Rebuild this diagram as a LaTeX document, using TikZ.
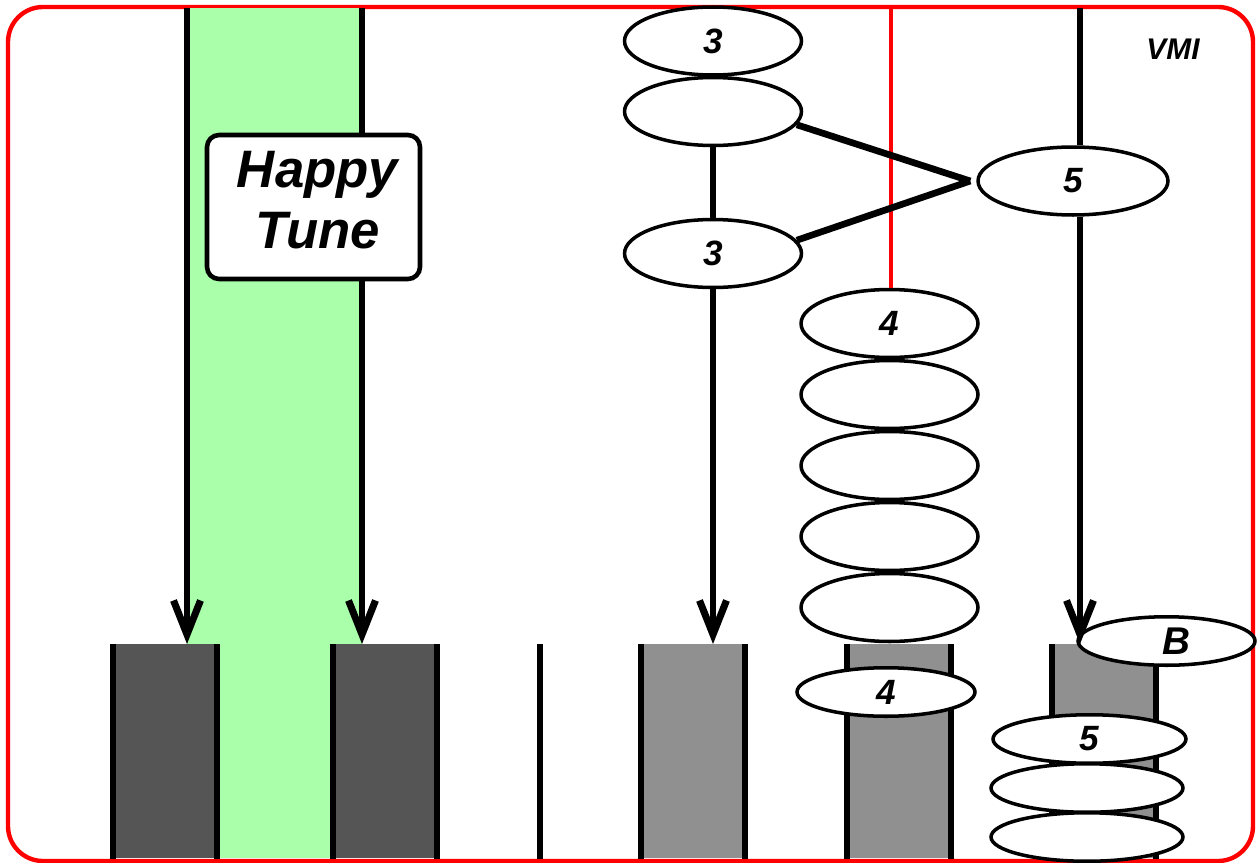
\documentclass[tikz,border=0pt]{standalone}
\usepackage{fontspec}
\setmainfont{Liberation Sans}
\usepackage{xcolor}
\usetikzlibrary{shapes.geometric}
\usetikzlibrary{arrows.meta}
\usetikzlibrary{positioning}

\definecolor{tunegreen}{HTML}{AAFFAA}
\definecolor{bardark}{HTML}{555555}
\definecolor{bargray}{HTML}{909090}

\tikzset{
  blob/.style={ellipse, draw, fill=white, line width=2pt, inner sep=0pt,
    minimum width=3.54cm, minimum height=1.36cm,
    font=\fontsize{20}{21}\selectfont\bfseries\itshape},
  flatblob/.style={blob, minimum width=3.56cm, minimum height=0.97cm},
  bar/.style={rectangle, inner sep=0pt, minimum width=2.07cm, minimum height=4.28cm, anchor=north},
  edge/.style={line width=3.2pt},
  link/.style={line width=2.9pt},
  feed/.style={line width=2.9pt, -{Straight Barb[length=0.68cm, width=0.54cm, line width=4pt]}},
  redline/.style={red, line width=2.5pt},
  tunetext/.style={align=center, font=\fontsize{30}{35}\selectfont\bfseries\itshape},
}

\begin{document}
\begin{tikzpicture}[x=0.02cm, y=-0.02cm]
  \useasboundingbox (0,0) rectangle (1257,862);

  % frame and green band
  \draw [red, line width=2.5pt, rounded corners=0.7cm] (8,7) rectangle (1253,861);
  \fill [tunegreen] (187,8) rectangle (362,858);

  % the bars at the bottom
  \node[bar, fill=bardark] (bar1) at (165,644) {};
  \node[bar, fill=bardark] (bar2) at (385,644) {};
  \node[bar, fill=bargray] (bar3) at (693,644) {};
  \node[bar, fill=bargray] (bar4) at (899,644) {};
  \node[bar, fill=bargray] (bar5) at (1104,644) {};
  \foreach \n in {bar1,bar2,bar3,bar4,bar5}
  {
    \draw [edge] (\n.north west) -- (\n.south west) (\n.north east) -- (\n.south east);
  }
  \coordinate (gap) at (540,644);
  \draw [edge] (gap) -- (gap |- bar1.south);

  % setup the ellipses
  \node[blob] (e3a) at (713,41) {3};
  \node[blob] (e3m) at (713,111.5) {};
  \node[blob] (e3b) at (713,253.5) {3};
  \node[blob, minimum width=3.8cm] (e5) at (1073,181) {5};
  \node[blob] (e40) at (889.5,323.5) {4};
  \foreach \i in {1,...,4}
  {
    \node[blob] (e4\i) at (889.5,323.5+71*\i) {};
  }
  \node[flatblob] (e4low) at (886,692) {4};
  \node[flatblob, minimum width=3.54cm, font=\fontsize{22}{23}\selectfont\bfseries\itshape] (eB) at (1166.5,641) {\hspace*{0.4cm}B};
  \node[flatblob, minimum width=3.86cm] (e5low) at (1089.5,739) {5};
  \foreach \i in {1,2}
  {
    \node[flatblob, minimum width=3.84cm] (e5low\i) at (1087,739+49*\i) {};
  }

  % red line
  \coordinate (rtop) at (891,8);
  \draw [redline] (rtop) -- (rtop |- e40.north);

  % arrows into the bars
  \coordinate (src1) at (187,8);
  \coordinate (src2) at (362,8);
  \coordinate (v5) at (1080,8);
  \draw [feed] (src1) -- (src1 |- bar1.north);
  \draw [feed] (src2) -- (src2 |- bar2.north);
  \draw [link] (e3m.south) -- (e3b.north);
  \draw [feed] (e3b.south) -- (e3b.south |- bar3.north);
  \draw [link] (v5) -- (v5 |- e5.north);
  \draw [feed] (v5 |- e5.south) -- (v5 |- bar5.north);

  % thick wedge to the 5
  \coordinate (apex) at ([xshift=-0.12cm]e5.west);
  \draw [line width=3.8pt] (e3m.-9) -- (apex);
  \draw [line width=3.8pt] (e3b.9) -- (apex);

  % the tune box
  \node[draw, fill=white, rounded corners=0.24cm, line width=2.6pt, inner sep=0pt,
    minimum width=4.26cm, minimum height=2.88cm,
    label={[tunetext, xshift=0.08cm, yshift=0.14cm]center:Happy\\Tune}] (tune) at (313.5,207) {};

  \node[font=\fontsize{17}{18}\selectfont\bfseries\itshape] (vmi) at (1173,49) {VMI};
\end{tikzpicture}
\end{document}
